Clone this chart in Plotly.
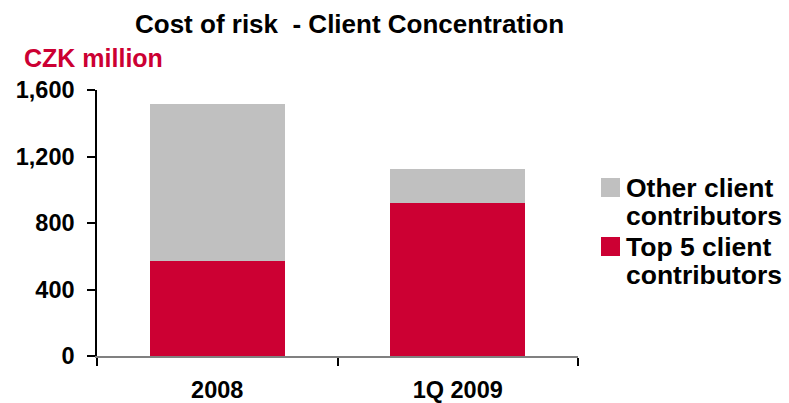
import plotly.graph_objects as go

# Cost of risk by client concentration (CZK million)
categories = ["2008", "1Q 2009"]
top5_values = [571, 920]
other_values = [945, 205]
series_names = ["Top 5 client contributors", "Other client contributors"]
series_colors = ["#CC0033", "#C0C0C0"]
y_ticks = [0, 400, 800, 1200, 1600]

W, H = 789, 403
L, R, T, B = 97, 211, 90, 47
PW, PH = W - L - R, H - T - B

fig = go.Figure()
fig.add_trace(go.Bar(x=categories, y=top5_values, name=series_names[0],
                     marker=dict(color=series_colors[0], line=dict(width=0))))
fig.add_trace(go.Bar(x=categories, y=other_values, name=series_names[1],
                     marker=dict(color=series_colors[1], line=dict(width=0))))

base_font = dict(family="Liberation Sans, Arial, sans-serif", color="black", weight="bold")

fig.update_layout(
    width=W, height=H,
    margin=dict(l=L, r=R, t=T, b=B, pad=0, autoexpand=False),
    paper_bgcolor="white", plot_bgcolor="white",
    barmode="stack", bargap=0.44,
    showlegend=False,
    font=base_font,
)
fig.update_xaxes(
    type="category", tickson="boundaries", ticks="outside", ticklen=8,
    tickcolor="black", tickwidth=1.5,
    showline=True, linecolor="#808080", linewidth=2,
    showgrid=False, zeroline=False, automargin=False,
    tickfont=dict(size=23.5, **base_font), ticklabelstandoff=12,
)
fig.update_yaxes(
    range=[0, 1600], tickvals=y_ticks, tickformat=",",
    ticks="outside", ticklen=8, tickcolor="black", tickwidth=1.5,
    showline=True, linecolor="black", linewidth=1.5,
    showgrid=False, zeroline=False, automargin=False,
    tickfont=dict(size=23.5, **base_font), ticklabelstandoff=8,
)

def px_x(v):
    return (v - L) / PW

def px_y(v):
    return (H - B - v) / PH

annotations = [
    dict(text="Cost of risk  - Client Concentration", x=px_x(349), y=px_y(24),
         font=dict(size=26, **base_font)),
    dict(text="CZK million", x=px_x(22), y=px_y(58), xanchor="left",
         font=dict(size=25, family="Liberation Sans, Arial, sans-serif", color="#CC0033", weight="bold")),
]

# Legend: swatch + two-line label, upper series first
legend_rows = [(1, 188), (0, 247)]
shapes = []
for idx, yc in legend_rows:
    first, second = series_names[idx].rsplit(" ", 1)
    shapes.append(dict(type="rect", xref="paper", yref="paper",
                       x0=px_x(601), x1=px_x(620), y0=px_y(yc - 10), y1=px_y(yc + 9),
                       fillcolor=series_colors[idx], line=dict(width=0)))
    annotations.append(dict(text=first, x=px_x(624), y=px_y(yc), xanchor="left",
                            font=dict(size=26.5, **base_font)))
    annotations.append(dict(text=second, x=px_x(624), y=px_y(yc + 28), xanchor="left",
                            font=dict(size=26.5, **base_font)))

for a in annotations:
    a.setdefault("xref", "paper")
    a.setdefault("yref", "paper")
    a.setdefault("showarrow", False)
    a.setdefault("yanchor", "middle")
    a.setdefault("xanchor", "center")

fig.update_layout(annotations=annotations, shapes=shapes)
fig.write_html("out.html")
